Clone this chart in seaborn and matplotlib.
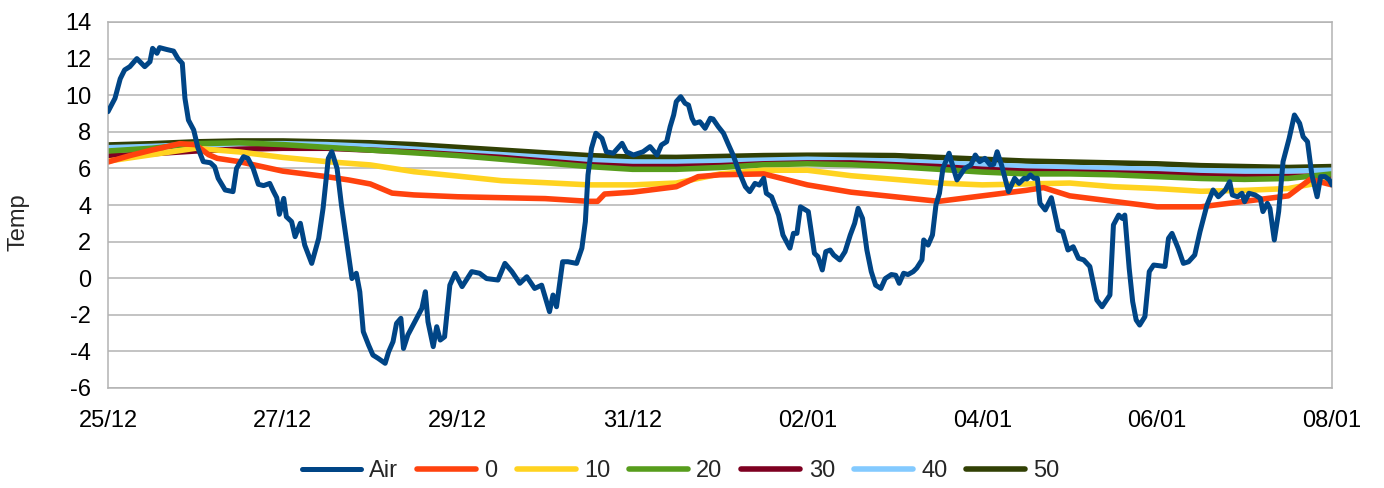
import numpy as np
import pandas as pd
import matplotlib
matplotlib.use("Agg")
import matplotlib.pyplot as plt
import matplotlib.dates as mdates
import seaborn as sns

# time axis: days since 25/12 00:00
start = pd.Timestamp("2020-12-25")

air_days = [0.00, 0.08, 0.14, 0.19, 0.25, 0.33, 0.42, 0.48, 0.51, 0.56, 0.59, 0.67, 0.75, 0.80,
            0.85, 0.88, 0.92, 0.98, 1.03, 1.09, 1.17, 1.22, 1.26, 1.34, 1.43, 1.47, 1.55, 1.60,
            1.66, 1.72, 1.78, 1.85, 1.89, 1.93, 1.96, 2.01, 2.04, 2.10, 2.14, 2.20, 2.25, 2.33,
            2.41, 2.46, 2.52, 2.56, 2.62, 2.67, 2.73, 2.79, 2.84, 2.88, 2.92, 2.98, 3.03, 3.09,
            3.17, 3.21, 3.26, 3.30, 3.35, 3.38, 3.43, 3.51, 3.59, 3.63, 3.66, 3.72, 3.76, 3.80,
            3.85, 3.91, 3.97, 4.05, 4.16, 4.25, 4.33, 4.46, 4.54, 4.62, 4.71, 4.79, 4.88, 4.96,
            5.05, 5.09, 5.13, 5.20, 5.26, 5.36, 5.42, 5.46, 5.49, 5.53, 5.58, 5.65, 5.70, 5.78,
            5.88, 5.93, 6.01, 6.12, 6.20, 6.28, 6.33, 6.39, 6.43, 6.47, 6.50, 6.55, 6.60, 6.64,
            6.68, 6.71, 6.77, 6.83, 6.89, 6.92, 6.98, 7.04, 7.09, 7.15, 7.21, 7.29, 7.34, 7.40,
            7.45, 7.50, 7.53, 7.59, 7.67, 7.72, 7.80, 7.84, 7.88, 7.92, 8.01, 8.08, 8.12, 8.17,
            8.21, 8.26, 8.30, 8.37, 8.43, 8.49, 8.54, 8.58, 8.63, 8.68, 8.73, 8.78, 8.84, 8.89,
            8.96, 9.01, 9.05, 9.10, 9.15, 9.21, 9.25, 9.31, 9.33, 9.38, 9.43, 9.47, 9.51, 9.55,
            9.62, 9.67, 9.71, 9.80, 9.87, 9.92, 9.97, 10.03, 10.09, 10.13, 10.17, 10.22, 10.30,
            10.37, 10.42, 10.48, 10.51, 10.55, 10.59, 10.63, 10.66, 10.72, 10.79, 10.87, 10.92,
            10.98, 11.04, 11.10, 11.16, 11.23, 11.31, 11.37, 11.46, 11.50, 11.56, 11.60, 11.63,
            11.68, 11.72, 11.76, 11.80, 11.86, 11.91, 11.96, 12.09, 12.13, 12.17, 12.24, 12.30,
            12.36, 12.43, 12.49, 12.57, 12.64, 12.70, 12.78, 12.83, 12.86, 12.92, 12.97, 13.00,
            13.05, 13.12, 13.18, 13.21, 13.26, 13.29, 13.34, 13.39, 13.44, 13.51, 13.57, 13.63,
            13.67, 13.72, 13.77, 13.83, 13.87, 13.92, 13.97, 14.00]
air_temp = [9.1, 9.83, 10.9, 11.38, 11.56, 12.0, 11.56, 11.83, 12.56, 12.29, 12.6, 12.5, 12.41, 12.0,
            11.74, 9.83, 8.64, 8.1, 7.1, 6.37, 6.31, 6.09, 5.46, 4.82, 4.73, 6.0, 6.64, 6.55,
            6.0, 5.13, 5.06, 5.18, 4.77, 4.40, 3.49, 4.36, 3.36, 3.09, 2.27, 3.0, 1.81, 0.81,
            2.18, 3.82, 6.55, 6.91, 6.0, 4.0, 2.0, -0.02, 0.27, -0.74, -2.92, -3.65, -4.2, -4.38,
            -4.65, -4.02, -3.47, -2.47, -2.19, -3.84, -3.1, -2.38, -1.65, -0.74, -2.38, -3.74, -2.65, -3.38,
            -3.2, -0.38, 0.27, -0.46, 0.36, 0.27, -0.02, -0.1, 0.81, 0.36, -0.28, 0.08, -0.56, -0.38,
            -1.83, -0.92, -1.56, 0.9, 0.9, 0.81, 1.64, 3.09, 5.64, 7.1, 7.92, 7.64, 6.91, 6.83,
            7.37, 6.91, 6.73, 6.91, 7.19, 6.73, 7.28, 7.46, 8.28, 8.92, 9.65, 9.92, 9.56, 9.46,
            8.74, 8.46, 8.55, 8.19, 8.74, 8.70, 8.28, 7.92, 7.37, 6.73, 5.91, 5.0, 4.73, 5.18,
            5.09, 5.46, 4.64, 4.45, 3.45, 2.36, 1.64, 2.45, 2.45, 3.9, 3.64, 1.36, 1.18, 0.45,
            1.45, 1.54, 1.27, 1.0, 1.45, 2.36, 3.0, 3.82, 3.27, 1.54, 0.36, -0.38, -0.56, -0.02,
            0.2, 0.16, -0.28, 0.27, 0.2, 0.36, 0.55, 1.0, 2.09, 1.81, 2.36, 4.0, 4.64, 6.0,
            6.83, 6.0, 5.37, 6.0, 6.19, 6.73, 6.37, 6.55, 6.19, 6.22, 6.91, 6.19, 4.73,
            5.46, 5.18, 5.46, 5.42, 5.64, 5.46, 5.46, 4.09, 3.73, 4.4, 2.63, 2.54,
            1.54, 1.72, 1.09, 1.0, 0.64, -1.19, -1.56, -0.92, 2.91, 3.45, 3.27, 3.45,
            0.55, -1.28, -2.28, -2.56, -2.1, 0.36, 0.72, 0.64, 2.18, 2.45, 1.64, 0.81,
            0.9, 1.27, 2.54, 4.0, 4.82, 4.45, 4.82, 5.27, 4.55, 4.45, 4.64, 4.18,
            4.64, 4.55, 4.36, 3.64, 4.09, 3.82, 2.09, 3.64, 6.37, 7.64, 8.92, 8.46,
            7.73, 7.46, 5.64, 4.45, 5.55, 5.55, 5.37, 5.09]

# soil depths, sampled every half day
soil_days = [0.0, 0.5, 1.0, 1.5, 2.0, 2.5, 3.0, 3.5, 4.0, 4.5, 5.0, 5.5, 6.0, 6.5, 7.0,
             7.5, 8.0, 8.5, 9.0, 9.5, 10.0, 10.5, 11.0, 11.5, 12.0, 12.5, 13.0, 13.5, 14.0]
t10 = [6.4, 6.75, 7.1, 6.9, 6.6, 6.37, 6.19, 5.82, 5.58, 5.33, 5.22, 5.1, 5.1, 5.2, 5.7,
       5.9, 5.9, 5.6, 5.4, 5.2, 5.1, 5.15, 5.2, 5.0, 4.9, 4.75, 4.8, 4.9, 5.35]
t20 = [6.95, 7.1, 7.35, 7.4, 7.3, 7.15, 7.0, 6.85, 6.7, 6.5, 6.3, 6.1, 5.95, 5.95, 6.05,
       6.2, 6.25, 6.2, 6.1, 5.95, 5.8, 5.7, 5.7, 5.65, 5.55, 5.45, 5.4, 5.45, 5.7]
t30 = [6.68, 6.8, 6.95, 7.05, 7.1, 7.1, 7.0, 6.9, 6.75, 6.6, 6.4, 6.2, 6.1, 6.1, 6.15,
       6.25, 6.3, 6.3, 6.2, 6.1, 5.95, 5.85, 5.8, 5.75, 5.7, 5.6, 5.55, 5.55, 5.6]
t40 = [7.13, 7.2, 7.3, 7.35, 7.35, 7.3, 7.2, 7.05, 6.9, 6.75, 6.6, 6.45, 6.35, 6.35, 6.4,
       6.45, 6.5, 6.45, 6.4, 6.3, 6.2, 6.1, 6.05, 6.0, 5.95, 5.88, 5.85, 5.85, 5.9]
t50 = [7.28, 7.35, 7.45, 7.5, 7.5, 7.45, 7.4, 7.3, 7.15, 7.0, 6.85, 6.7, 6.62, 6.6, 6.65,
       6.7, 6.72, 6.72, 6.7, 6.6, 6.5, 6.4, 6.35, 6.3, 6.25, 6.15, 6.1, 6.05, 6.1]

t0_days = [0.0, 0.25, 0.5, 0.82, 1.0, 1.15, 1.25, 1.5, 2.0, 2.5, 2.75, 3.0, 3.25, 3.5, 4.0,
           4.5, 5.0, 5.5, 5.6, 5.68, 6.0, 6.5, 6.75, 7.0, 7.5, 8.0, 8.5, 9.0, 9.5, 10.0,
           10.5, 10.7, 11.0, 11.5, 12.0, 12.5, 13.0, 13.5, 13.75, 14.0]
t0 = [6.35, 6.7, 7.0, 7.35, 7.3, 6.75, 6.55, 6.37, 5.85, 5.55, 5.37, 5.15, 4.65, 4.55, 4.45,
      4.4, 4.35, 4.2, 4.2, 4.6, 4.7, 5.0, 5.55, 5.65, 5.7, 5.1, 4.7, 4.45, 4.2, 4.5,
      4.8, 4.95, 4.5, 4.2, 3.9, 3.9, 4.2, 4.5, 5.4, 5.1]

series = ["Air", "0", "10", "20", "30", "40", "50"]
colors = ["#004586", "#ff420e", "#ffd320", "#579d1c", "#7e0021", "#83caff", "#314004"]


def to_time(days):
    return start + pd.to_timedelta(np.array(days), unit="D")


sns.set_style("white")
plt.rcParams["font.family"] = ["Liberation Sans", "DejaVu Sans"]
plt.rcParams["axes.unicode_minus"] = False

fig = plt.figure(figsize=(13.84, 4.88), dpi=100)
ax = fig.add_axes([108 / 1384, 1 - 388 / 488, (1332 - 108) / 1384, (388 - 22) / 488])

soil = {"0": (t0_days, t0), "10": (soil_days, t10), "20": (soil_days, t20),
        "30": (soil_days, t30), "40": (soil_days, t40), "50": (soil_days, t50)}

# deeper layers first so the shallow ones sit on top
for name in ["50", "40", "30", "20", "10", "0"]:
    d, v = soil[name]
    df = pd.DataFrame({"time": to_time(d), "temp": v})
    sns.lineplot(data=df, x="time", y="temp", ax=ax, color=colors[series.index(name)],
                 lw=4.0, label=name, legend=False)

df_air = pd.DataFrame({"time": to_time(air_days), "temp": air_temp})
sns.lineplot(data=df_air, x="time", y="temp", ax=ax, color=colors[0], lw=3.6,
             label="Air", legend=False, zorder=5)

ax.set_xlim(start, start + pd.Timedelta(days=14))
ax.set_ylim(-6, 14)
ax.set_yticks(range(-6, 15, 2))
ax.xaxis.set_major_locator(mdates.DayLocator(interval=2))
ax.xaxis.set_major_formatter(mdates.DateFormatter("%d/%m"))
ax.grid(axis="y", color="#b3b3b3", lw=1.1)
ax.grid(axis="x", visible=False)
for s in ax.spines.values():
    s.set_color("#b3b3b3")
    s.set_linewidth(1.1)
ax.tick_params(axis="both", which="major", labelsize=17, colors="#b3b3b3",
               labelcolor="black", length=7, width=1.1, direction="out")
ax.tick_params(axis="x", pad=9)
ax.tick_params(axis="y", pad=5)
ax.set_xlabel("")
ax.set_ylabel("")
fig.text(18 / 1384, 1 - 222 / 488, "Temp", rotation=90, ha="center", va="center", fontsize=17)

# legend in Air, 0, 10 ... order
handles, labels = ax.get_legend_handles_labels()
order = [labels.index(n) for n in series]
fig.legend([handles[i] for i in order], series, loc="center",
           bbox_to_anchor=(0.492, 1 - 471 / 488), ncol=7, frameon=False, fontsize=17,
           handlelength=2.5, handletextpad=0.35, columnspacing=0.8)

fig.savefig("out.png", dpi=100)
